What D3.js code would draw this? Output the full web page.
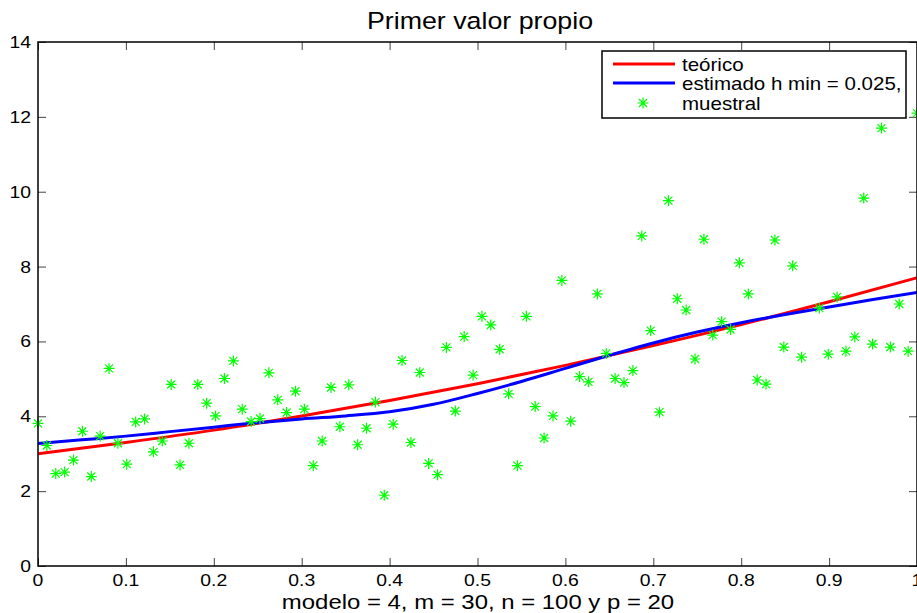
<!DOCTYPE html>
<html>
<head>
<meta charset="utf-8">
<script src="https://cdn.jsdelivr.net/npm/d3@7"></script>
<style>
  body { margin: 0; background: #fff; }
  svg { display: block; font-family: "Liberation Sans", Arial, sans-serif; }
</style>
</head>
<body>
<svg id="chart" width="917" height="613"></svg>
<script>
// muestral: 100 sample points, evenly spaced on [0, 1]
var muestral = [
  3.81, 3.22, 2.47, 2.51, 2.83, 3.60, 2.39, 3.47, 5.28, 3.28,
  2.72, 3.85, 3.93, 3.05, 3.34, 4.85, 2.70, 3.28, 4.85, 4.35,
  4.01, 5.01, 5.48, 4.19, 3.86, 3.94, 5.16, 4.44, 4.10, 4.67,
  4.19, 2.68, 3.34, 4.77, 3.72, 4.84, 3.24, 3.68, 4.38, 1.89,
  3.79, 5.49, 3.30, 5.17, 2.74, 2.44, 5.84, 4.14, 6.13, 5.10,
  6.67, 6.44, 5.79, 4.60, 2.68, 6.67, 4.26, 3.42, 4.01, 7.63,
  3.87, 5.06, 4.92, 7.27, 5.68, 5.01, 4.90, 5.22, 8.82, 6.29,
  4.11, 9.76, 7.14, 6.84, 5.53, 8.73, 6.17, 6.53, 6.32, 8.10,
  7.27, 4.97, 4.86, 8.71, 5.85, 8.02, 5.58, 13.0, 6.89, 5.66,
  7.19, 5.74, 6.12, 9.83, 5.93, 11.70, 5.85, 7.00, 5.74, 12.10
];
var muestralX = d3.range(muestral.length).map(function(i){ return i / (muestral.length - 1); });

// teórico curve, read every 0.1
var teoricoX = [0, 0.1, 0.2, 0.3, 0.4, 0.5, 0.6, 0.7, 0.8, 0.9, 1];
var teorico  = [3.00, 3.30, 3.63, 4.01, 4.42, 4.87, 5.36, 5.89, 6.45, 7.06, 7.70];

// estimado curve, read every 0.05
var estimadoX = [0, 0.05, 0.1, 0.15, 0.2, 0.25, 0.3, 0.35, 0.4, 0.45, 0.5,
                 0.55, 0.6, 0.65, 0.7, 0.75, 0.8, 0.85, 0.9, 0.95, 1];
var estimado  = [3.27, 3.37, 3.47, 3.59, 3.71, 3.83, 3.93, 4.01, 4.12, 4.32, 4.61,
                 4.93, 5.28, 5.63, 5.96, 6.25, 6.50, 6.72, 6.92, 7.12, 7.31];

var xTicks = [0, 0.1, 0.2, 0.3, 0.4, 0.5, 0.6, 0.7, 0.8, 0.9, 1];
var yTicks = [0, 2, 4, 6, 8, 10, 12, 14];
var legendLabels = ["teórico", "estimado h min = 0.025,", "muestral"];

var pLeft = 38, pRight = 917, pTop = 42, pBottom = 566;
var stretch = 1.14; // the reference text is drawn a little wide

var svg = d3.select("#chart");
var x = d3.scaleLinear().domain([0, 1]).range([pLeft, pRight]);
var y = d3.scaleLinear().domain([0, 14]).range([pBottom, pTop]);

function addText(parent, tx, ty, str, size, anchor){
  return parent.append("text")
    .attr("transform", "translate(" + tx + "," + ty + ") scale(" + stretch + ",1)")
    .attr("text-anchor", anchor || "start")
    .attr("font-size", size)
    .text(str);
}

// ticks (inward, all four sides)
var tl = 8;
function plainTicks(g){
  g.select(".domain").remove();
  g.selectAll("line").attr("stroke", "#444");
}
svg.append("g").attr("transform", "translate(0," + pBottom + ")")
  .call(d3.axisBottom(x).tickValues(xTicks).tickSizeInner(-tl).tickSizeOuter(0).tickFormat(""))
  .call(plainTicks);
svg.append("g").attr("transform", "translate(0," + pTop + ")")
  .call(d3.axisTop(x).tickValues(xTicks).tickSizeInner(-tl).tickSizeOuter(0).tickFormat(""))
  .call(plainTicks);
svg.append("g").attr("transform", "translate(" + pLeft + ",0)")
  .call(d3.axisLeft(y).tickValues(yTicks).tickSizeInner(-tl).tickSizeOuter(0).tickFormat(""))
  .call(plainTicks);
svg.append("g").attr("transform", "translate(" + pRight + ",0)")
  .call(d3.axisRight(y).tickValues(yTicks).tickSizeInner(-tl).tickSizeOuter(0).tickFormat(""))
  .call(plainTicks);

// tick labels
var xl = svg.append("g");
xTicks.forEach(function(d){ addText(xl, x(d), pBottom + 20, d3.format("")(d), 17, "middle"); });
var yl = svg.append("g");
yTicks.forEach(function(d){ addText(yl, pLeft - 7, y(d) + 6, d, 17, "end"); });

// curves
var line = d3.line().curve(d3.curveMonotoneX)
  .x(function(d){ return x(d[0]); })
  .y(function(d){ return y(d[1]); });

svg.append("path")
  .datum(d3.zip(teoricoX, teorico))
  .attr("d", line)
  .attr("fill", "none").attr("stroke", "#ff0000").attr("stroke-width", 3);

svg.append("path")
  .datum(d3.zip(estimadoX, estimado))
  .attr("d", line)
  .attr("fill", "none").attr("stroke", "#0000ff").attr("stroke-width", 3);

// asterisk marker
function star(g, cx, cy){
  var a = 5.5, b = 4;
  var p = "M" + (cx - a) + "," + cy + "H" + (cx + a) +
          "M" + cx + "," + (cy - a) + "V" + (cy + a) +
          "M" + (cx - b) + "," + (cy - b) + "L" + (cx + b) + "," + (cy + b) +
          "M" + (cx - b) + "," + (cy + b) + "L" + (cx + b) + "," + (cy - b);
  g.append("path").attr("d", p).attr("stroke", "#00ff00").attr("stroke-width", 1.2).attr("fill", "none");
}

var pts = svg.append("g");
muestral.forEach(function(v, i){
  if (v > 14) return;
  star(pts, x(muestralX[i]), y(v));
});

// axes box
svg.append("rect")
  .attr("x", pLeft).attr("y", pTop)
  .attr("width", pRight - pLeft).attr("height", pBottom - pTop)
  .attr("fill", "none").attr("stroke", "#000").attr("stroke-width", 1.5);

// legend
var lg = svg.append("g");
lg.append("rect").attr("x", 602).attr("y", 51).attr("width", 304).attr("height", 67)
  .attr("fill", "#fff").attr("stroke", "#000").attr("stroke-width", 1.5);
var rows = [64, 83, 103];
lg.append("line").attr("x1", 613).attr("x2", 675).attr("y1", rows[0]).attr("y2", rows[0])
  .attr("stroke", "#ff0000").attr("stroke-width", 3);
lg.append("line").attr("x1", 613).attr("x2", 675).attr("y1", rows[1]).attr("y2", rows[1])
  .attr("stroke", "#0000ff").attr("stroke-width", 3);
star(lg, 643, rows[2]);
legendLabels.forEach(function(t, i){
  addText(lg, 682, rows[i] + 6.5, t, 18);
});

// title and x label
addText(svg, 480, 29, "Primer valor propio", 23.5, "middle");
addText(svg, 478, 609, "modelo = 4, m = 30, n = 100 y p = 20", 21, "middle");
</script>
</body>
</html>
